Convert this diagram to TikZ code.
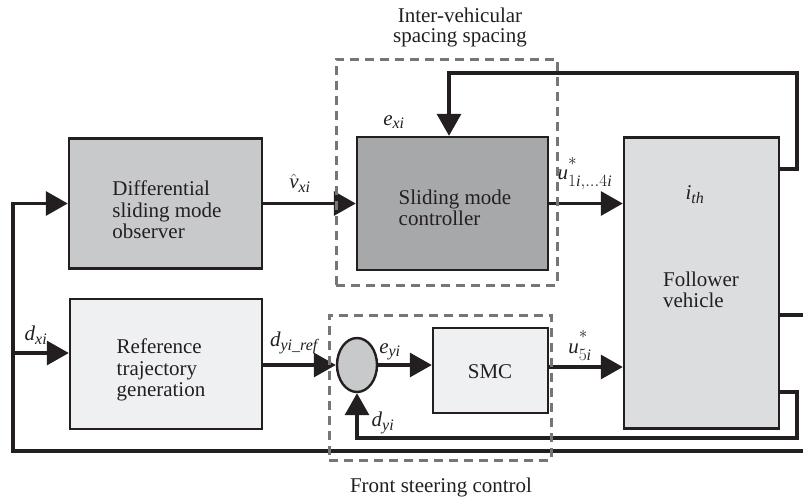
\documentclass[tikz,border=0pt]{standalone}
\usepackage{amsmath}
\usepackage{fontspec}
\setmainfont{Liberation Serif}
\DeclareMathSizes{21}{21}{16}{12}
\usetikzlibrary{arrows.meta,shapes.geometric}
\definecolor{obsgray}{HTML}{C8C9CB}
\definecolor{ctrlgray}{HTML}{A7A8AA}
\definecolor{lightgray2}{HTML}{EFF0F2}
\definecolor{folgray}{HTML}{DCDDDF}
\definecolor{dashgray}{HTML}{767676}
\definecolor{ink}{HTML}{231F20}
\newcommand{\hstar}{\smash{\raisebox{7pt}{$\scriptstyle *$}}}
\tikzset{
  blk/.style={draw=ink, line width=2.4pt, inner sep=0pt},
  txt/.style={font=\fontsize{21}{21.5}\selectfont, text=ink, inner sep=0pt, align=left},
  lbl/.style={font=\fontsize{21}{21.5}\selectfont, text=ink, inner sep=0pt},
  conn/.style={draw=ink, line width=3.3pt},
  arr/.style={conn, -{Triangle[length=22pt,width=24pt]}},
  dashbox/.style={draw=dashgray, line width=3pt, dash pattern=on 9pt off 6pt, inner sep=0pt}
}
\begin{document}
\begin{tikzpicture}[x=1pt,y=-1pt]
\useasboundingbox (0,0) rectangle (803,499);
% blocks
\node[blk, fill=obsgray, minimum width=193pt, minimum height=130pt] (obs) at (165.5,203.5) {};
\node[txt] (obstxt) at (167,210) {Differential\\sliding mode\\observer};
\node[blk, fill=ctrlgray, minimum width=191pt, minimum height=133pt] (ctrl) at (452.5,203.5) {};
\node[txt] (ctrltxt) at (455,208) {Sliding mode\\controller};
\node[blk, fill=lightgray2, minimum width=192pt, minimum height=130pt] (ref) at (166,364) {};
\node[txt] (reftxt) at (161,370) {Reference\\trajectory\\generation};
\node[blk, fill=lightgray2, minimum width=115pt, minimum height=85pt] (smc) at (490.5,370.5) {};
\node[lbl] (smctxt) at (490,372) {SMC};
\node[blk, fill=folgray, minimum width=155pt, minimum height=291pt] (fol) at (701.5,283) {};
\node[txt] (foltxt) at (701,290) {Follower\\vehicle};
\node[lbl] (ith) at (695,195) {$\textit{i}_{\textit{th}}$};
\node[blk, fill=obsgray, ellipse, minimum width=40pt, minimum height=54pt] (sum) at (357,365) {};
% coordinates
\coordinate (t1) at (797,169);
\coordinate (t2) at (797,73);
\coordinate (t3) at (449,73);
\coordinate (b1) at (797,392);
\coordinate (b2) at (797,438);
\coordinate (r1) at (803,315);
\coordinate (l1) at (803,451);
\coordinate (l2) at (13,451);
\coordinate (l3) at (13,203.5);
\coordinate (l4) at (13,353);
% connectors
\draw[arr] (obs.east) -- (ctrl.west);
\draw[arr] (ctrl.east) -- (ctrl.east -| fol.west);
\draw[arr] (fol.east |- t1) -- (t1) -- (t2) -- (t3) -- (t3 |- ctrl.north);
\draw[arr] (fol.east |- b1) -- (b1) -- (b2) -- (b2 -| sum.south) -- (sum.south);
\draw[conn] (fol.east |- r1) -- (r1);
\draw[arr] (l1) -- (l2) -- (l3) -- (obs.west |- l3);
\draw[arr] (l4) -- (ref.west |- l4);
\draw[arr] (ref.east |- sum.west) -- (sum.west);
\draw[arr] (sum.east) -- (sum.east -| smc.west);
\draw[arr] (smc.east |- 0,367) -- (fol.west |- 0,367);
% labels
\node[lbl] (vx) at (300,183) {$\hat{\textit{v}}_{\textit{xi}}$};
\node[lbl] (ex) at (394,122) {$\textit{e}_{\textit{xi}}$};
\node[lbl] (u14) at (585,180) {$\textit{u}^{\hstar}_{1\textit{i},\ldots 4\textit{i}}$};
\node[lbl] (u5) at (580,352) {$\textit{u}^{\hstar}_{5\textit{i}}$};
\node[lbl] (dx) at (36,335) {$\textit{d}_{\textit{xi}}$};
\node[lbl] (dyref) at (294,343) {$\textit{d}_{\textit{yi\_ref}}$};
\node[lbl] (ey) at (390,352) {$\textit{e}_{\textit{yi}}$};
\node[lbl] (dy) at (383,423) {$\textit{d}_{\textit{yi}}$};
% groups
\node[dashbox, minimum width=221pt, minimum height=226pt] (grp1) at (446.5,172) {};
\node[dashbox, minimum width=222pt, minimum height=145pt] (grp2) at (440,387.5) {};
\node[lbl, align=center, font=\fontsize{21}{20}\selectfont] (grp1t) at (460,27) {Inter-vehicular\\spacing spacing};
\node[lbl] (grp2t) at (441,487) {Front steering control};
\end{tikzpicture}
\end{document}
